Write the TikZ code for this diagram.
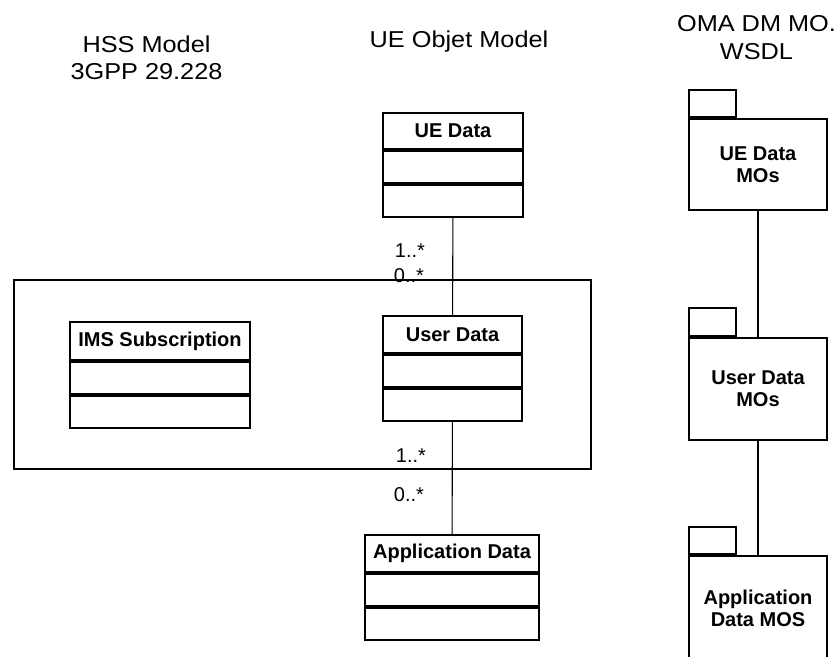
\documentclass[tikz,border=0pt]{standalone}
\usepackage{fontspec}
\setmainfont{Liberation Sans}
\newfontfamily\titlefont[FakeStretch=1.1]{Liberation Sans}
\usetikzlibrary{positioning}
\tikzset{
    classhead/.style={
        rectangle,
        draw=black,
        line width=1.8pt,
        minimum width=140pt,
        minimum height=37pt,
        inner sep=0pt,
        font=\fontsize{20}{24}\selectfont\bfseries
    },
    classpart/.style={
        rectangle,
        draw=black,
        line width=1.8pt,
        minimum width=140pt,
        minimum height=32pt,
        inner sep=0pt
    },
    package/.style={
        rectangle,
        draw=black,
        line width=1.8pt,
        minimum width=138pt,
        align=center,
        inner sep=0pt,
        font=\fontsize{20}{22}\selectfont\bfseries
    },
    pkgtab/.style={
        rectangle,
        draw=black,
        line width=1.8pt,
        minimum width=47pt,
        minimum height=27pt,
        inner sep=0pt
    },
    hssframe/.style={
        rectangle,
        draw=black,
        line width=1.8pt,
        inner sep=0pt
    },
    title/.style={
        align=center,
        inner sep=0pt,
        font=\titlefont\fontsize{23}{27}\selectfont
    },
    mult/.style={
        inner sep=0pt,
        font=\fontsize{20}{24}\selectfont
    },
    assoc/.style={
        draw=black,
        line width=1.1pt
    }
}

\begin{document}
\begin{tikzpicture}[x=1pt, y=-1pt]

\clip (0,0) rectangle (838,656);

% Titles
\node[title] (hss_title) at (146.5,57.5) {HSS Model\\3GPP 29.228};
\node[title] (ue_title) at (459,41.5) {UE Objet Model};
\node[title, font=\titlefont\fontsize{23}{28.3}\selectfont] (oma_title) at (756.5,37.5) {OMA DM MO.\\WSDL};

% HSS frame
\node[hssframe, minimum width=577pt, minimum height=189pt] (hss_frame) at (302.5,374.5) {};

% UE Data class
\node[classhead, minimum height=36pt] (ue_data) at (453,131) {UE Data};
\node[classpart, below=0pt of ue_data] (ue_data_a) {};
\node[classpart, below=0pt of ue_data_a] (ue_data_b) {};

% User Data class
\node[classhead, minimum width=139pt] (user_data) at (452.5,334.5) {User Data};
\node[classpart, minimum width=139pt, below=0pt of user_data] (user_data_a) {};
\node[classpart, minimum width=139pt, below=0pt of user_data_a] (user_data_b) {};

% IMS Subscription class
\node[classhead, minimum width=180pt, minimum height=38pt] (ims_sub) at (160,341) {IMS Subscription};
\node[classpart, minimum width=180pt, below=0pt of ims_sub] (ims_sub_a) {};
\node[classpart, minimum width=180pt, below=0pt of ims_sub_a] (ims_sub_b) {};

% Application Data class
\node[classhead, minimum width=174pt] (app_data) at (452,553.5) {Application Data};
\node[classpart, minimum width=174pt, below=0pt of app_data] (app_data_a) {};
\node[classpart, minimum width=174pt, below=0pt of app_data_a] (app_data_b) {};

% Multiplicities
\node[mult] (m_ue) at (410,251) {1..*};
\node[mult] (m_user_top) at (409,276) {0..*};
\node[mult] (m_user_bot) at (411,455.5) {1..*};
\node[mult] (m_app) at (409,495) {0..*};

% Associations
\draw[assoc] (ue_data_b) -- (user_data);
\draw[assoc] (user_data_b) -- (app_data);

% OMA DM packages
\node[package, minimum height=91pt] (ue_mo) at (758,164.5) {UE Data\\MOs};
\node[pkgtab, above right=0pt of ue_mo.north west] (ue_mo_tab) {};
\node[package, minimum height=102pt] (user_mo) at (758,389) {User Data\\MOs};
\node[pkgtab, minimum height=28pt, above right=0pt of user_mo.north west] (user_mo_tab) {};
\node[package, minimum height=104pt] (app_mo) at (758,608) {Application\\Data MOS};
\node[pkgtab, above right=0pt of app_mo.north west] (app_mo_tab) {};

\draw[assoc] (ue_mo) -- (user_mo);
\draw[assoc] (user_mo) -- (app_mo);

\end{tikzpicture}
\end{document}
